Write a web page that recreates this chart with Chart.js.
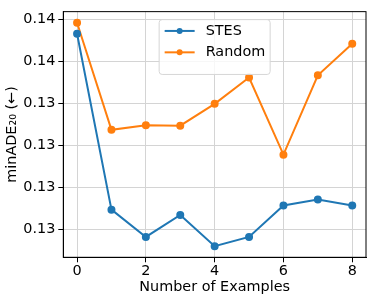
<!DOCTYPE html>
<html>
<head>
<meta charset="utf-8">
<script src="https://cdn.jsdelivr.net/npm/chart.js@4.4.1/dist/chart.umd.min.js"></script>
<style>
  html, body { margin: 0; padding: 0; background: #fff; }
  #wrap { width: 373px; height: 302px; }
</style>
</head>
<body>
<div id="wrap"><canvas id="chart" width="373" height="302"></canvas></div>
<script>
// data
const numExamples = [0, 1, 2, 3, 4, 5, 6, 7, 8];
const stes = [0.13733, 0.12895, 0.12765, 0.12870, 0.12721, 0.12765, 0.12915, 0.12943, 0.12915];
const random = [0.13785, 0.13275, 0.13297, 0.13295, 0.13399, 0.13524, 0.13157, 0.13535, 0.13685];
const xTicks = [0, 2, 4, 6, 8];
const yTicks = [0.128, 0.130, 0.132, 0.134, 0.136, 0.138];

const FONT = 'DejaVu Sans';
const FS = 14.4;

const toPoints = ys => numExamples.map((x, i) => ({ x: x, y: ys[i] }));

// matplotlib-ish frame around the plot area
const framePlugin = {
  id: 'frame',
  afterDraw(chart) {
    const { ctx, chartArea: a } = chart;
    ctx.save();
    ctx.strokeStyle = '#000';
    ctx.lineWidth = 1;
    ctx.strokeRect(a.left, a.top, a.right - a.left, a.bottom - a.top);
    ctx.restore();
  }
};

// legend drawn inside the axes, upper center
const innerLegend = {
  id: 'innerLegend',
  afterDraw(chart) {
    const { ctx, chartArea: a } = chart;
    const sets = chart.data.datasets;
    const w = 111, rowH = 21.4;
    const h = 12 + rowH * sets.length;
    const x0 = (a.left + a.right) / 2 - w / 2;
    const y0 = a.top + 8;
    ctx.save();
    ctx.beginPath();
    ctx.roundRect(x0, y0, w, h, 3);
    ctx.fillStyle = 'rgba(255,255,255,0.8)';
    ctx.fill();
    ctx.strokeStyle = '#d6d6d6';
    ctx.lineWidth = 1;
    ctx.stroke();
    ctx.font = FS + 'px "' + FONT + '"';
    ctx.textBaseline = 'middle';
    sets.forEach((ds, i) => {
      const cy = y0 + 11.3 + i * rowH;
      ctx.strokeStyle = ds.borderColor;
      ctx.lineWidth = 2;
      ctx.beginPath();
      ctx.moveTo(x0 + 5.5, cy);
      ctx.lineTo(x0 + 35.5, cy);
      ctx.stroke();
      ctx.fillStyle = ds.borderColor;
      ctx.beginPath();
      ctx.arc(x0 + 20.5, cy, 3, 0, Math.PI * 2);
      ctx.fill();
      ctx.fillStyle = '#000';
      ctx.fillText(ds.label, x0 + 46.5, cy);
    });
    ctx.restore();
  }
};

new Chart(document.getElementById('chart'), {
  type: 'line',
  data: {
    datasets: [
      {
        label: 'STES',
        data: toPoints(stes),
        borderColor: '#1f77b4',
        backgroundColor: '#1f77b4',
        borderWidth: 2,
        pointRadius: 3,
        pointHoverRadius: 3,
        tension: 0
      },
      {
        label: 'Random',
        data: toPoints(random),
        borderColor: '#ff7f0e',
        backgroundColor: '#ff7f0e',
        borderWidth: 2,
        pointRadius: 3,
        pointHoverRadius: 3,
        tension: 0
      }
    ]
  },
  options: {
    responsive: false,
    animation: false,
    layout: { padding: { top: 6, right: 7, bottom: 0, left: 0 } },
    plugins: {
      legend: { display: false },
      tooltip: { enabled: false }
    },
    scales: {
      x: {
        type: 'linear',
        min: -0.4,
        max: 8.4,
        afterBuildTicks: s => { s.ticks = xTicks.map(v => ({ value: v })); },
        afterFit: s => { s.height = 44.7; },
        grid: { color: '#d4d4d4', lineWidth: 1, tickLength: 5, tickColor: '#000' },
        border: { color: '#000', width: 1 },
        ticks: {
          color: '#000',
          font: { family: FONT, size: FS },
          padding: 0,
          maxRotation: 0,
          callback: v => String(v)
        },
        title: {
          display: true,
          text: 'Number of Examples',
          color: '#000',
          font: { family: FONT, size: FS },
          padding: { top: 0, bottom: 6 }
        }
      },
      y: {
        min: 0.12668,
        max: 0.13838,
        afterBuildTicks: s => { s.ticks = yTicks.map(v => ({ value: v })); },
        afterFit: s => { s.width = 63.3; },
        grid: { color: '#d4d4d4', lineWidth: 1, tickLength: 5, tickColor: '#000' },
        border: { color: '#000', width: 1 },
        ticks: {
          color: '#000',
          font: { family: FONT, size: FS },
          padding: 3,
          callback: v => v.toFixed(2)
        },
        title: {
          display: true,
          text: 'minADE\u2082\u2080 (\u2190)',
          color: '#000',
          font: { family: FONT, size: FS },
          padding: { top: 4, bottom: 0 }
        }
      }
    }
  },
  plugins: [framePlugin, innerLegend]
});
</script>
</body>
</html>
